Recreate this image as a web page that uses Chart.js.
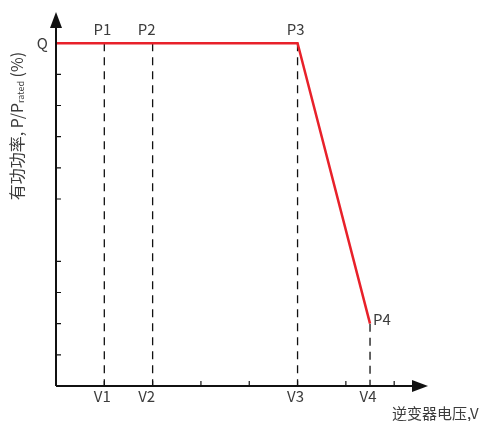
<!DOCTYPE html>
<html lang="zh">
<head>
  <meta charset="UTF-8">
  <title>有功功率 - 电压</title>
  <script src="https://cdn.jsdelivr.net/npm/chart.js"></script>
  <style>
    body { margin: 0; background: #fff; }
    #chart { display: block; }
  </style>
</head>
<body>
<canvas id="chart" width="485" height="421"></canvas>
<script>
  // curve: P/Prated vs inverter voltage (axis units)
  const curveX = [0, 5, 6.5];
  const curveY = [11, 11, 2];

  // dashed guide lines at V1..V4, top value of each line
  const vLabels = ['V1', 'V2', 'V3', 'V4'];
  const vPos = [1, 2, 5, 6.5];
  const vTop = [11, 11, 11, 2];
  const pLabels = ['P1', 'P2', 'P3', 'P4'];

  // small axis tick marks
  const xTicks = [1, 2, 3, 4, 5, 6, 7];
  const yTicks = [1, 2, 3, 4, 6, 7, 8, 9, 10];
  const qValue = 11;

  const xMax = 7.7, yMax = 12;
  const txt = '#3c3c3c';
  const font = '"Noto Sans CJK SC", "Noto Sans", sans-serif';

  const datasets = [{
    data: curveX.map((x, i) => ({ x: x, y: curveY[i] })),
    borderColor: '#e8212a',
    borderWidth: 2.5,
    pointRadius: 0,
    order: 0
  }];
  vPos.forEach((v, i) => {
    datasets.push({
      data: [{ x: v, y: vTop[i] }, { x: v, y: 0 }],
      borderColor: '#111',
      borderWidth: 1.3,
      borderDash: [8, 6],
      pointRadius: 0,
      order: 1
    });
  });

  const axesPlugin = {
    id: 'axes',
    afterDatasetsDraw(chart) {
      const ctx = chart.ctx;
      const xs = chart.scales.x, ys = chart.scales.y;
      const x0 = xs.getPixelForValue(0), y0 = ys.getPixelForValue(0);
      const xEnd = xs.getPixelForValue(xMax), yEnd = ys.getPixelForValue(yMax);
      ctx.save();
      ctx.strokeStyle = '#111';
      ctx.fillStyle = '#111';
      ctx.lineWidth = 2;
      ctx.beginPath();
      ctx.moveTo(x0, y0); ctx.lineTo(xEnd - 10, y0);
      ctx.moveTo(x0, y0); ctx.lineTo(x0, yEnd + 10);
      ctx.stroke();
      // arrow heads
      ctx.beginPath();
      ctx.moveTo(xEnd, y0); ctx.lineTo(xEnd - 16, y0 - 6); ctx.lineTo(xEnd - 16, y0 + 6);
      ctx.closePath(); ctx.fill();
      ctx.beginPath();
      ctx.moveTo(x0, yEnd); ctx.lineTo(x0 - 6, yEnd + 16); ctx.lineTo(x0 + 6, yEnd + 16);
      ctx.closePath(); ctx.fill();
      // tick marks
      ctx.lineWidth = 1.2;
      ctx.beginPath();
      xTicks.forEach(t => {
        const px = xs.getPixelForValue(t);
        ctx.moveTo(px, y0); ctx.lineTo(px, y0 - 5);
      });
      yTicks.forEach(t => {
        const py = ys.getPixelForValue(t);
        ctx.moveTo(x0, py); ctx.lineTo(x0 + 5, py);
      });
      ctx.stroke();

      // labels
      ctx.fillStyle = txt;
      ctx.font = '15px ' + font;
      ctx.textBaseline = 'middle';
      ctx.textAlign = 'right';
      ctx.fillText('Q', x0 - 8, ys.getPixelForValue(qValue));
      ctx.textAlign = 'center';
      vPos.forEach((v, i) => {
        const px = xs.getPixelForValue(v);
        const shift = i === 1 ? -6 : -2;
        ctx.fillText(vLabels[i], px + shift, y0 + 10);
        if (i < 3) {
          ctx.fillText(pLabels[i], px + shift, ys.getPixelForValue(vTop[i]) - 14);
        } else {
          ctx.textAlign = 'left';
          ctx.fillText(pLabels[i], px + 3, ys.getPixelForValue(vTop[i]) - 4);
          ctx.textAlign = 'center';
        }
      });
      // x title
      ctx.textAlign = 'left';
      ctx.font = '15px ' + font;
      ctx.fillText('逆变器电压,V', 392, y0 + 27);

      // y title, rotated, with subscript
      ctx.translate(17, 126);
      ctx.rotate(-Math.PI / 2);
      const parts = [['有功功率, P/P', 16, 0], ['rated', 9, 4], [' (%)', 16, 0]];
      let total = 0;
      parts.forEach(p => { ctx.font = p[1] + 'px ' + font; total += ctx.measureText(p[0]).width; });
      let cx = -total / 2;
      parts.forEach(p => {
        ctx.font = p[1] + 'px ' + font;
        ctx.fillText(p[0], cx, p[2]);
        cx += ctx.measureText(p[0]).width;
      });
      ctx.restore();
    }
  };

  new Chart(document.getElementById('chart'), {
    type: 'line',
    data: { datasets: datasets },
    options: {
      responsive: false,
      animation: false,
      layout: { padding: { left: 56, right: 57, top: 12, bottom: 35 } },
      plugins: { legend: { display: false }, tooltip: { enabled: false } },
      scales: {
        x: { type: 'linear', min: 0, max: xMax, display: false },
        y: { type: 'linear', min: 0, max: yMax, display: false }
      }
    },
    plugins: [axesPlugin]
  });
</script>
</body>
</html>
